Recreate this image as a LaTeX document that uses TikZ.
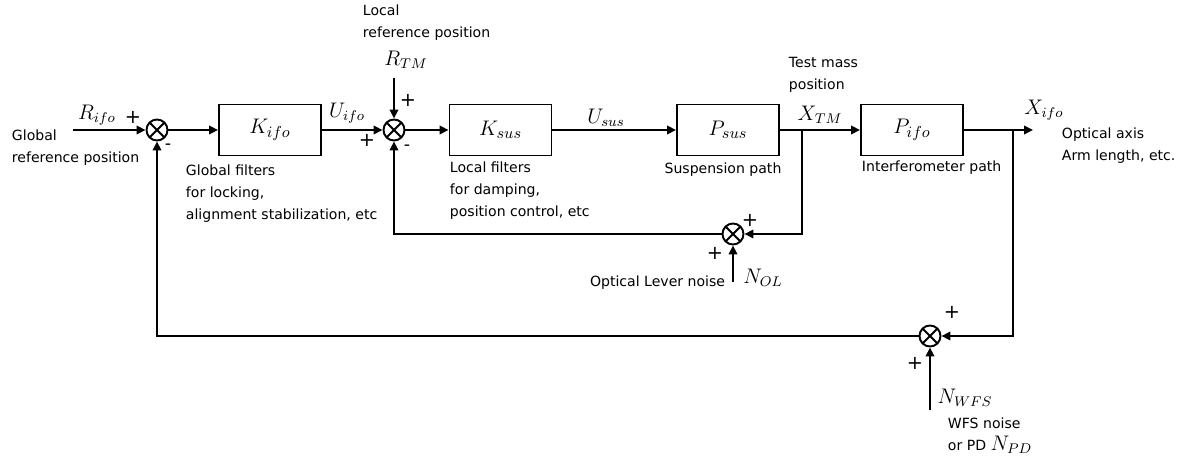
\documentclass[tikz,border=0pt]{standalone}
\usepackage{fontspec}
\setsansfont{DejaVu Sans}
\usepackage{tikz}
\usetikzlibrary{arrows.meta,positioning,calc}

\begin{document}
\begin{tikzpicture}[line width=1.1pt, >={Triangle[length=1.8mm,width=1.7mm]},
    every node/.style={font=\fontsize{8}{12.5}\selectfont\sffamily, align=left, inner sep=0pt},
    block/.style={draw, minimum width=2.04cm, minimum height=1.02cm, font=\fontsize{12.5}{14}\selectfont},
    sumpt/.style={draw, circle, minimum size=0.42cm, path picture={\draw (path picture bounding box.north west) -- (path picture bounding box.south east) (path picture bounding box.north east) -- (path picture bounding box.south west);}},
    sig/.style={font=\fontsize{12}{14}\selectfont},
    pm/.style={font=\fontsize{11}{13}\selectfont\sffamily},
    mn/.style={font=\fontsize{10}{12}\selectfont\sffamily}]
            \useasboundingbox (0,0) rectangle (23.6,9.18);
            % Forward path
            \node[sumpt] (sumg) at (3.14,6.58) {};
            \node[block] (kifo) at (5.4,6.58) {$K_{ifo}$};
            \node[sumpt] (suml) at (7.88,6.58) {};
            \node[block] (ksus) at (10.01,6.58) {$K_{sus}$};
            \node[block] (psus) at (14.56,6.58) {$P_{sus}$};
            \node[block] (pifo) at (18.24,6.58) {$P_{ifo}$};
            \coordinate (rin) at (1.46,6.58);
            \coordinate (rtm) at (7.88,7.62);
            \coordinate (xtm) at (16.04,6.58);
            \coordinate (xifo) at (20.26,6.58);
            \coordinate (xout) at (20.66,6.58);
            \draw[->] (rin) -- (sumg);
            \draw[->] (sumg) -- (kifo);
            \draw[->] (kifo) -- (suml);
            \draw[->] (rtm) -- (suml);
            \draw[->] (suml) -- (ksus);
            \draw[->] (ksus) -- (psus);
            \draw[->] (psus) -- (pifo);
            \draw[->] (pifo) -- (xout);
            \node[sig] (lrifo) at (1.94,6.88) {$R_{ifo}$};
            \node[pm] (pg1) at (2.66,6.84) {+};
            \node[mn] (mg1) at (3.36,6.24) {-};
            \node[anchor=west] (tglob) at (0.22,6.23) {Global\\reference position};
            \node[anchor=west] (tkifo) at (3.7,5.3) {Global filters\\for locking,\\alignment stabilization, etc};
            \node[sig] (luifo) at (6.94,6.92) {$U_{ifo}$};
            \node[pm] (pl1) at (8.16,7.18) {+};
            \node[pm] (pl2) at (7.34,6.38) {+};
            \node[mn] (ml1) at (8.14,6.22) {-};
            \node[sig] (lrtm) at (8.12,7.98) {$R_{TM}$};
            \node[anchor=west] (tloc) at (7.24,8.73) {Local\\reference position};
            \node[anchor=west] (tksus) at (8.98,5.36) {Local filters\\for damping,\\position control, etc};
            \node[sig] (lusus) at (12.12,6.82) {$U_{sus}$};
            \node (tpsus) at (14.46,5.78) {Suspension path};
            \node[sig] (lxtm) at (16.4,6.88) {$X_{TM}$};
            \node[anchor=west] (ttm) at (15.76,7.69) {Test mass\\position};
            \node[anchor=west] (tpifo) at (17.22,5.82) {Interferometer path};
            \node[sig] (lxifo) at (20.88,6.98) {$X_{ifo}$};
            \node[anchor=west] (taxis) at (21.22,6.27) {Optical axis\\Arm length, etc.};

            % Local loop (optical lever)
            \node[sumpt] (sumol) at (14.66,4.5) {};
            \coordinate (nol) at (14.66,3.54);
            \draw[->] (xtm) |- (sumol);
            \draw[->] (nol) -- (sumol);
            \draw[->] (sumol) -| (suml);
            \node[pm] (po1) at (15.0,4.78) {+};
            \node[pm] (po2) at (14.3,4.12) {+};
            \node[sig] (lnol) at (15.26,3.62) {$N_{OL}$};
            \node[anchor=east] (tol) at (14.52,3.52) {Optical Lever noise};

            % Global loop (WFS)
            \node[sumpt] (sumwfs) at (18.6,2.46) {};
            \coordinate (nwfs) at (18.6,0.98);
            \draw[->] (xifo) |- (sumwfs);
            \draw[->] (nwfs) -- (sumwfs);
            \draw[->] (sumwfs) -| (sumg);
            \node[pm] (pw1) at (19.04,2.94) {+};
            \node[pm] (pw2) at (18.3,1.92) {+};
            \node[sig] (lnwfs) at (19.3,1.22) {$N_{WFS}$};
            \node[anchor=west] (twfs) at (18.94,0.46) {WFS noise\\or PD {\fontsize{12}{14}\selectfont$N_{PD}$}};
        \end{tikzpicture}
\end{document}
